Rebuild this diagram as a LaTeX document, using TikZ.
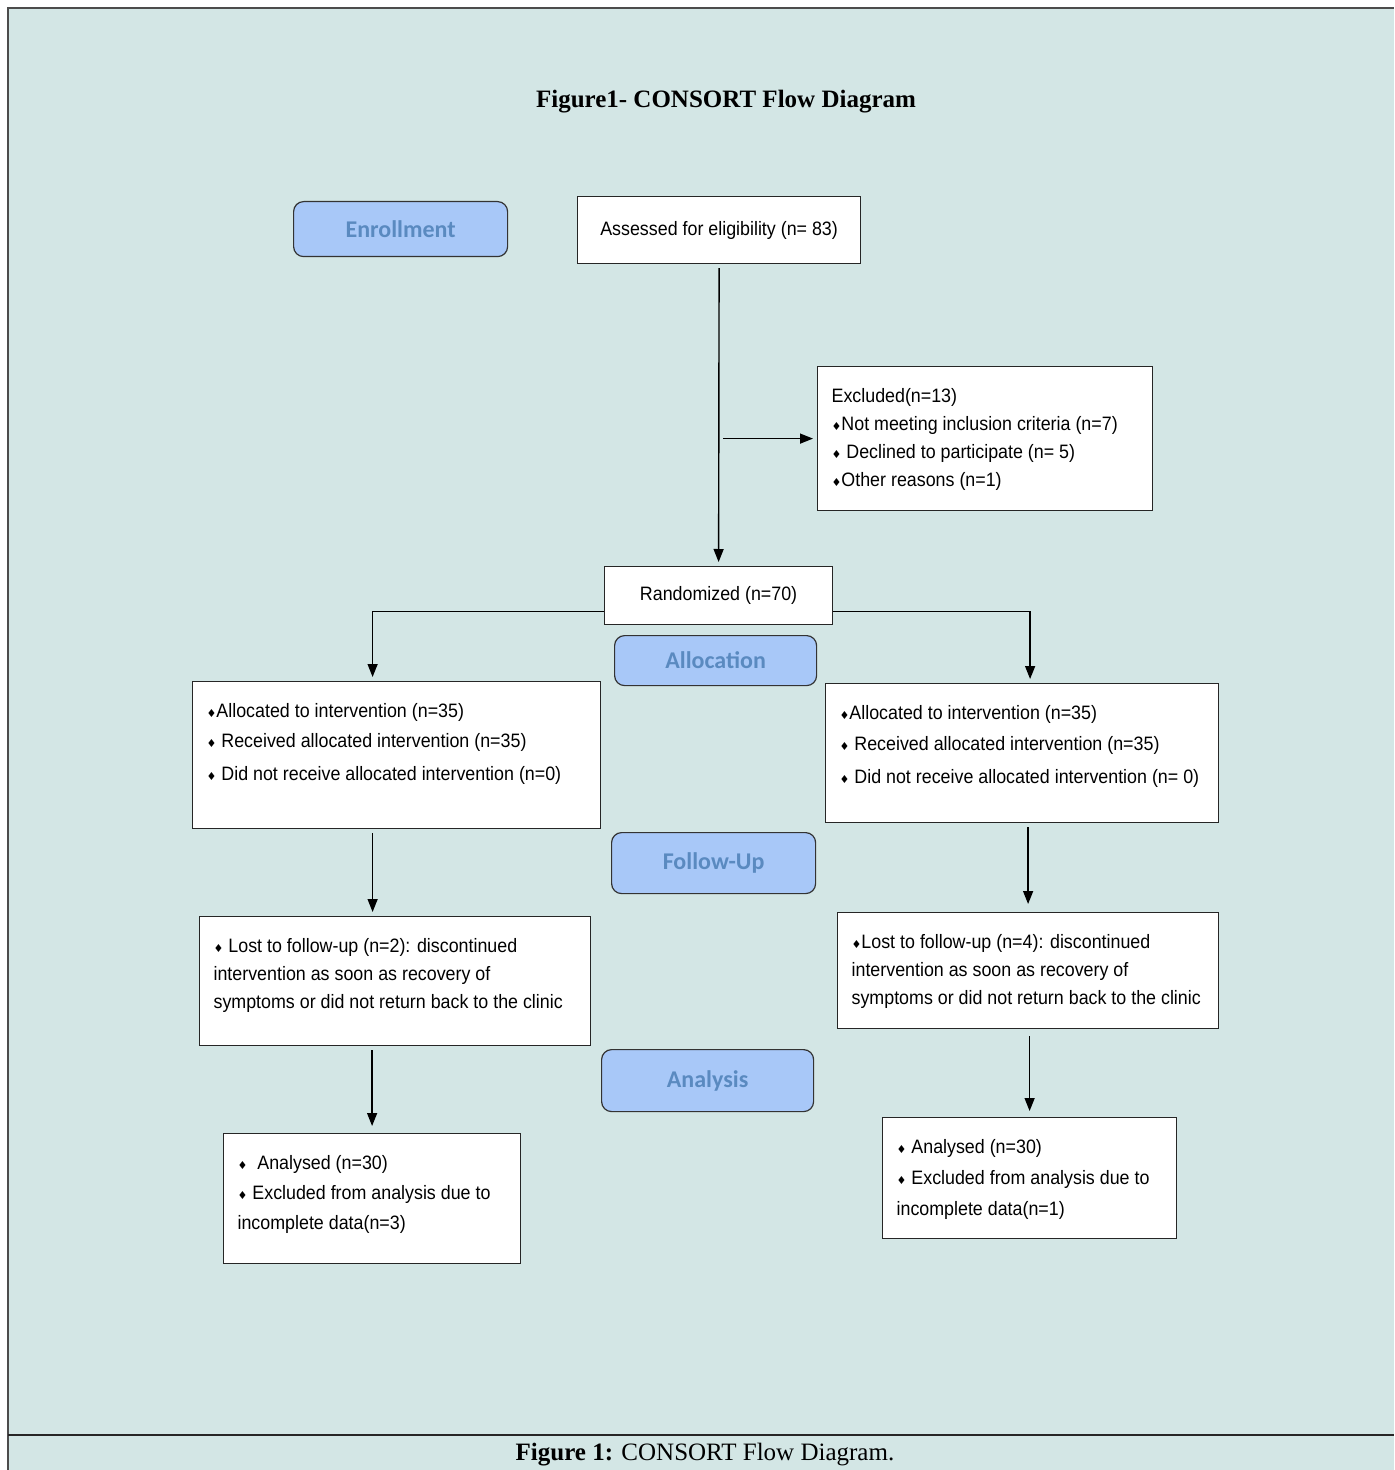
\documentclass[tikz,border=0pt]{standalone}
\usepackage{fontspec}
\setmainfont{Liberation Sans}
\newfontfamily\boxfont[FakeStretch=0.92]{Liberation Sans}
\newfontfamily\stagefont{Carlito}
\newfontfamily\titlefont{Liberation Serif}
\newfontfamily\symfont{DejaVu Sans}
\usetikzlibrary{arrows.meta}
\definecolor{bgteal}{HTML}{D3E6E5}
\definecolor{stagefill}{HTML}{A8C8F8}
\definecolor{stagetext}{HTML}{5A8AC0}
\newcommand{\bul}{{\symfont\fontsize{5.5}{5.5}\selectfont ♦}}
\newcommand{\boxtext}[3]{\parbox[c][#2][t]{#1}{\begin{tabular}[t]{@{}l@{}}#3\end{tabular}}}

\tikzset{
  stage/.style={draw=black!80, fill=stagefill, rounded corners=5pt, line width=0.6pt,
    font=\stagefont\bfseries\fontsize{12}{14}\selectfont, text=stagetext,
    anchor=north west, inner sep=0pt},
  plainbox/.style={draw=black!85, fill=white, line width=0.6pt, anchor=north west,
    inner sep=0pt, font=\boxfont\fontsize{9.7}{14}\selectfont},
  flowbox/.style={draw=black!85, fill=white, line width=0.6pt, anchor=north west,
    inner xsep=7pt, inner ysep=8pt, font=\boxfont\fontsize{9.7}{14}\selectfont},
  arr/.style={-{Triangle[length=6.5pt,width=5pt]}, line width=0.7pt,
    shorten <=2pt, shorten >=2pt},
}

\begin{document}
\begin{tikzpicture}[x=0.5pt,y=-0.5pt]
  \useasboundingbox (0,0) rectangle (1394,1470);
  \fill[bgteal] (8,8) rectangle (1394,1470);
  \draw[black!70, line width=0.9pt] (8,1470) -- (8,8) -- (1394,8);
  \draw[black!85, line width=1.2pt] (8,1435) -- (1394,1435);

  \node[font=\titlefont\bfseries\fontsize{12.5}{15}\selectfont] (title) at (726,102) {Figure1- CONSORT Flow Diagram};

  \node[stage, minimum width=107pt, minimum height=27.5pt] (enroll) at (293,201) {Enrollment};
  \node[stage, minimum width=101pt, minimum height=25pt] (allocation) at (614,635) {Allocation};
  \node[stage, minimum width=102pt, minimum height=30.5pt] (followup) at (611,832) {Follow-Up};
  \node[stage, minimum width=106pt, minimum height=31pt] (analysis) at (601,1049) {Analysis};

  \node[plainbox, minimum width=141.5pt, minimum height=33.5pt] (assess) at (577,196) {Assessed for eligibility (n= 83)};
  \node[flowbox] (excl) at (817,366) {\boxtext{153.5pt}{56pt}{%
    Excluded(n=13)\\
    \bul Not meeting inclusion criteria (n=7)\\
    \bul\ Declined to participate (n= 5)\\
    \bul Other reasons (n=1)}};
  \node[plainbox, minimum width=114pt, minimum height=29pt] (rand) at (604,566) {Randomized (n=70)};

  \node[flowbox] (allocL) at (192,681) {\boxtext{190pt}{57.5pt}{%
    \bul Allocated to intervention (n=35)\\[1pt]
    \bul\ Received allocated intervention (n=35)\\[2.5pt]
    \bul\ Did not receive allocated intervention (n=0)}};
  \node[flowbox] (allocR) at (825,683) {\boxtext{182.5pt}{53.5pt}{%
    \bul Allocated to intervention (n=35)\\[1.5pt]
    \bul\ Received allocated intervention (n=35)\\[2.5pt]
    \bul\ Did not receive allocated intervention (n= 0)}};

  \node[flowbox] (fuL) at (199,916) {\boxtext{181.5pt}{48.5pt}{%
    \bul\ Lost to follow-up (n=2): discontinued\\
    intervention as soon as recovery of\\
    symptoms or did not return back to the clinic}};
  \node[flowbox] (fuR) at (837,912) {\boxtext{176.5pt}{42pt}{%
    \bul Lost to follow-up (n=4): discontinued\\
    intervention as soon as recovery of\\
    symptoms or did not return back to the clinic}};

  \node[flowbox] (anaL) at (223,1133) {\boxtext{134.5pt}{49pt}{%
    \bul\ \ Analysed (n=30)\\[1pt]
    \bul\ Excluded from analysis due to\\[1pt]
    incomplete data(n=3)}};
  \node[flowbox] (anaR) at (882,1117) {\boxtext{133pt}{44.5pt}{%
    \bul\ Analysed (n=30)\\[1.5pt]
    \bul\ Excluded from analysis due to\\[1.5pt]
    incomplete data(n=1)}};

  \draw[arr] (assess.south) -- (rand.north);
  \draw[arr] (assess.south |- excl.west) -- (excl.west);
  \draw[arr, shorten <=0pt] ([yshift=-8pt]rand.west) -| ([xshift=-12pt]allocL.north);
  \draw[arr, shorten <=0pt] ([yshift=-8pt]rand.east) -| ([xshift=4pt]allocR.north);
  \draw[arr] ([xshift=-12pt]allocL.south) -- ([xshift=-12pt]allocL.south |- fuL.north);
  \draw[arr, shorten >=4pt] ([xshift=3pt]allocR.south) -- ([xshift=3pt]allocR.south |- fuR.north);
  \draw[arr, shorten >=3.5pt] (anaL.north |- fuL.south) -- (anaL.north);
  \draw[arr, shorten <=3.5pt, shorten >=3pt] (anaR.north |- fuR.south) -- (anaR.north);

  \node[font=\titlefont\fontsize{12.5}{15}\selectfont] (caption) at (705,1455) {\textbf{Figure 1:} CONSORT Flow Diagram.};
\end{tikzpicture}
\end{document}
